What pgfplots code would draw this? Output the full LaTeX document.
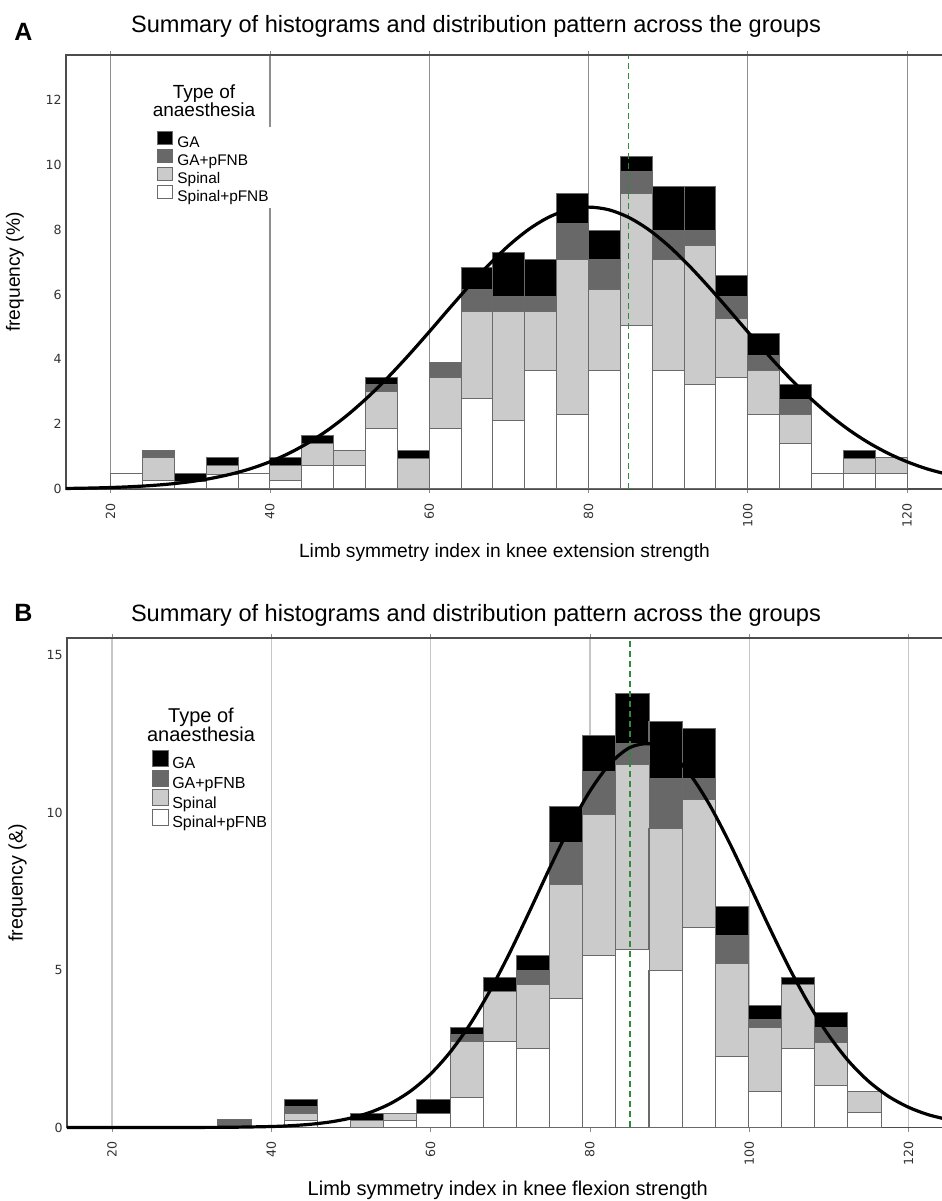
\documentclass[border=0pt]{standalone}
\usepackage{fontspec}
\setmainfont{Liberation Sans}
\newfontfamily\tickfont{DejaVu Sans}
\usepackage{pgfplots}
\usepackage{pgfplotstable}
\pgfplotsset{compat=1.18}

\definecolor{lg}{HTML}{CBCBCB}
\definecolor{dg}{HTML}{686868}
\definecolor{barline}{HTML}{6A6A6A}
\definecolor{gridA}{HTML}{8E8E8E}
\definecolor{gridB}{HTML}{C6C6C6}
\definecolor{meangreen}{HTML}{2F8A3A}

% Panel A: bins of width 4 (centres), stacked % : W=Spinal+pFNB, S=Spinal, D=GA+pFNB, G=GA
\pgfplotstableread{
x W S D G
22 0.48 0 0 0
26 0.26 0.71 0.21 0
30 0.24 0 0 0.25
34 0.46 0.26 0 0.25
38 0.48 0 0 0
42 0.26 0.46 0 0.25
46 0.74 0.67 0 0.23
50 0.74 0.44 0 0
54 1.87 1.13 0.23 0.20
58 0 0.95 0 0.23
62 1.87 1.57 0.46 0
66 2.79 2.68 0.69 0.68
70 2.11 3.36 0.47 1.35
74 3.67 1.80 0.47 1.13
78 2.31 4.76 1.13 0.93
82 3.67 2.49 0.91 0.90
86 5.06 4.07 0.66 0.47
90 3.67 3.40 0.90 1.36
94 3.21 4.29 0.47 1.36
98 3.44 1.81 0.69 0.66
102 2.31 1.36 0.44 0.69
106 1.41 0.90 0.46 0.44
110 0.48 0 0 0
114 0.48 0.47 0 0.23
118 0.48 0.50 0 0
}\dataA

% Panel B: bins of width 4.163
\pgfplotstableread{
x W S D G
35.38 0 0 0.25 0
43.71 0.22 0.22 0.22 0.22
52.03 0 0.23 0 0.22
56.20 0.23 0.22 0 0
60.36 0.45 0 0 0.45
64.52 0.95 1.78 0.21 0.24
68.68 2.73 1.59 0 0.45
72.85 2.52 2.01 0.47 0.46
77.01 4.11 3.60 1.34 1.14
81.17 5.45 4.50 1.36 1.14
85.34 5.66 5.86 0.69 1.59
89.50 5.00 4.51 1.59 1.79
93.66 6.36 4.07 0.67 1.56
97.83 2.27 2.93 0.89 0.93
101.99 1.14 2.04 0.24 0.45
106.15 2.52 2.01 0 0.24
110.32 1.35 1.36 0.47 0.47
114.48 0.47 0.67 0 0
}\dataB

\pgfplotsset{
  panel/.style={
    scale only axis, ybar stacked, enlargelimits=false,
    axis line style={draw=black!70, line width=0.6pt},
    xtick={20,40,...,120}, xmajorgrids,
    tick align=outside, major tick length=2pt,
    xtick style={draw=black!45, line width=0.4pt},
    ytick style={draw=none},
    tick label style={font=\tickfont\fontsize{6.3}{7}\selectfont, text=black!80},
    /pgf/number format/assume math mode=true,
    xticklabel style={yshift=-5pt, rotate=90, anchor=east, inner sep=0pt},
    yticklabel style={anchor=east, inner sep=0pt, xshift=0pt},
    every axis plot/.append style={draw=barline, line width=0.5pt},
    reverse legend, legend cell align=left,
  },
  sqA/.style={legend image code/.code={\draw[##1] (0pt,-0.5pt) rectangle (7.5pt,6pt); \path (9.7pt,0pt);}},
  sqB/.style={legend image code/.code={\draw[##1] (0pt,-1pt) rectangle (8pt,7pt); \path (9.6pt,0pt);}},
  overlayax/.style={scale only axis, hide axis, clip=false, enlargelimits=false},
  meanline/.style={meangreen, line width=0.8pt, dash pattern=on 3pt off 2pt},
  curve/.style={black, line width=1.6pt, smooth, tension=0.5},
}

\begin{document}
\begin{tikzpicture}
\path[use as bounding box] (0,0) rectangle (471pt,600.5pt);

% ---------------- Panel A ----------------
\begin{axis}[panel,
  at={(33pt,356pt)}, anchor=south west, width=442pt, height=217pt,
  xmin=14.4, xmax=125.385, ymin=0, ymax=13.395,
  ytick={0,2,...,12}, bar width=4,
  grid style={draw=gridA, line width=0.6pt},
  title={Summary of histograms and distribution pattern across the groups},
  every axis title/.style={at={(axis description cs:0,1)}, anchor=base, xshift=205pt, yshift=11.35pt, font=\fontsize{11.8}{14}\selectfont},
  xlabel={Limb symmetry index in knee extension strength},
  every axis x label/.style={at={(axis description cs:0,0)}, anchor=base, xshift=219.25pt, yshift=-34.5pt, font=\fontsize{9.6}{11}\selectfont},
  ylabel={frequency (\%)},
  every axis y label/.style={at={(axis description cs:0,0.5)}, xshift=-25.5pt, rotate=90, anchor=center, font=\fontsize{9.6}{11}\selectfont},
  legend style={at={(axis description cs:0.0976,0.8348)}, anchor=north west, draw=none, fill=white,
    inner xsep=2.2pt, inner ysep=2pt, font=\fontsize{7.7}{9}\selectfont, row sep=-0.8pt,
    nodes={inner sep=0pt, text height=5.5pt, text depth=1.5pt}},
]
\addplot[fill=white, sqA] table[x=x, y=W] {\dataA};
\addlegendentry{Spinal+pFNB}
\addplot[fill=lg, sqA] table[x=x, y=S] {\dataA};
\addlegendentry{Spinal}
\addplot[fill=dg, sqA] table[x=x, y=D] {\dataA};
\addlegendentry{GA+pFNB}
\addplot[fill=black, sqA] table[x=x, y=G] {\dataA};
\addlegendentry{GA}
\node[anchor=base, font=\fontsize{9.5}{11}\selectfont] at (axis description cs:0.1561,0.9009) {Type of};
\node[anchor=base, font=\fontsize{9.5}{11}\selectfont] at (axis description cs:0.1561,0.8583) {anaesthesia};
\end{axis}
\begin{axis}[overlayax,
  at={(33pt,356pt)}, anchor=south west, width=442pt, height=217pt,
  xmin=14.4, xmax=125.385, ymin=0, ymax=13.395]
\addplot[meanline] coordinates {(85,0) (85,13.395)};
\addplot[curve] coordinates {
(14.4,0.016) (17.5,0.029) (20,0.045) (22.5,0.070) (25,0.105) (27.5,0.155)
(30,0.226) (32.5,0.322) (35,0.452) (37.5,0.621) (40,0.840) (42.5,1.115)
(45,1.453) (47.5,1.859) (50,2.336) (52.5,2.882) (55,3.491) (57.5,4.153)
(60,4.850) (62.5,5.564) (65,6.263) (67.5,6.924) (70,7.518) (72.5,8.014)
(75,8.388) (77.5,8.621) (80,8.700) (82.5,8.621) (85,8.388) (87.5,8.014)
(90,7.518) (92.5,6.924) (95,6.263) (97.5,5.564) (100,4.850) (102.5,4.153)
(105,3.491) (107.5,2.882) (110,2.336) (112.5,1.859) (115,1.453) (117.5,1.115)
(120,0.840) (122.5,0.621) (125.4,0.430)};
\end{axis}
\node[font=\bfseries\fontsize{12.5}{14}\selectfont, anchor=base west, inner sep=0pt] at (7pt,580.2pt) {A};

% ---------------- Panel B ----------------
\begin{axis}[panel,
  at={(33.5pt,36.75pt)}, anchor=south west, width=442pt, height=244.75pt,
  xmin=14.35, xmax=125.335, ymin=0, ymax=15.55,
  ytick={0,5,10,15}, bar width=4.163,
  grid style={draw=gridB, line width=0.6pt},
  title={Summary of histograms and distribution pattern across the groups},
  every axis title/.style={at={(axis description cs:0,1)}, anchor=base, xshift=204.5pt, yshift=8.15pt, font=\fontsize{11.8}{14}\selectfont},
  xlabel={Limb symmetry index in knee flexion strength},
  every axis x label/.style={at={(axis description cs:0,0)}, anchor=base, xshift=220.4pt, yshift=-34.25pt, font=\fontsize{10}{12}\selectfont},
  ylabel={frequency (\&)},
  every axis y label/.style={at={(axis description cs:0,0.5)}, xshift=-24.75pt, rotate=90, anchor=center, font=\fontsize{9.8}{11}\selectfont},
  legend style={at={(axis description cs:0.0958,0.7726)}, anchor=north west, draw=none, fill=none,
    inner sep=0pt, font=\fontsize{8}{9.5}\selectfont, row sep=-1.05pt,
    nodes={inner sep=0pt, text height=5.8pt, text depth=1.6pt}},
]
\addplot[fill=white, sqB] table[x=x, y=W] {\dataB};
\addlegendentry{Spinal+pFNB}
\addplot[fill=lg, sqB] table[x=x, y=S] {\dataB};
\addlegendentry{Spinal}
\addplot[fill=dg, sqB] table[x=x, y=D] {\dataB};
\addlegendentry{GA+pFNB}
\addplot[fill=black, sqB] table[x=x, y=G] {\dataB};
\addlegendentry{GA}
\node[anchor=base, font=\fontsize{10}{12}\selectfont] at (axis description cs:0.1516,0.8264) {Type of};
\node[anchor=base, font=\fontsize{10}{12}\selectfont] at (axis description cs:0.1516,0.7876) {anaesthesia};
\end{axis}
\begin{axis}[overlayax,
  at={(33.5pt,36.75pt)}, anchor=south west, width=442pt, height=244.75pt,
  xmin=14.35, xmax=125.335, ymin=0, ymax=15.55]
\addplot[meanline] coordinates {(85,0) (85,15.55)};
\addplot[curve] coordinates {
(14.35,0) (25,0.0004) (30,0.002) (35,0.008) (40,0.031) (42.5,0.058)
(45,0.104) (47.5,0.180) (50,0.301) (52.5,0.489) (55,0.766) (57.5,1.160)
(60,1.700) (62.5,2.408) (65,3.297) (67.5,4.364) (70,5.585) (72.5,6.910)
(75,8.267) (77.5,9.559) (80,10.686) (82.5,11.550) (85,12.068) (87.5,12.190)
(90,11.907) (92.5,11.242) (95,10.261) (97.5,9.055) (100,7.726) (102.5,6.372)
(105,5.081) (107.5,3.918) (110,2.919) (112.5,2.103) (115,1.465) (117.5,0.987)
(120,0.643) (122.5,0.405) (125.3,0.230)};
\end{axis}
\node[font=\bfseries\fontsize{12.5}{14}\selectfont, anchor=base west, inner sep=0pt] at (7pt,289.65pt) {B};
\end{tikzpicture}
\end{document}
